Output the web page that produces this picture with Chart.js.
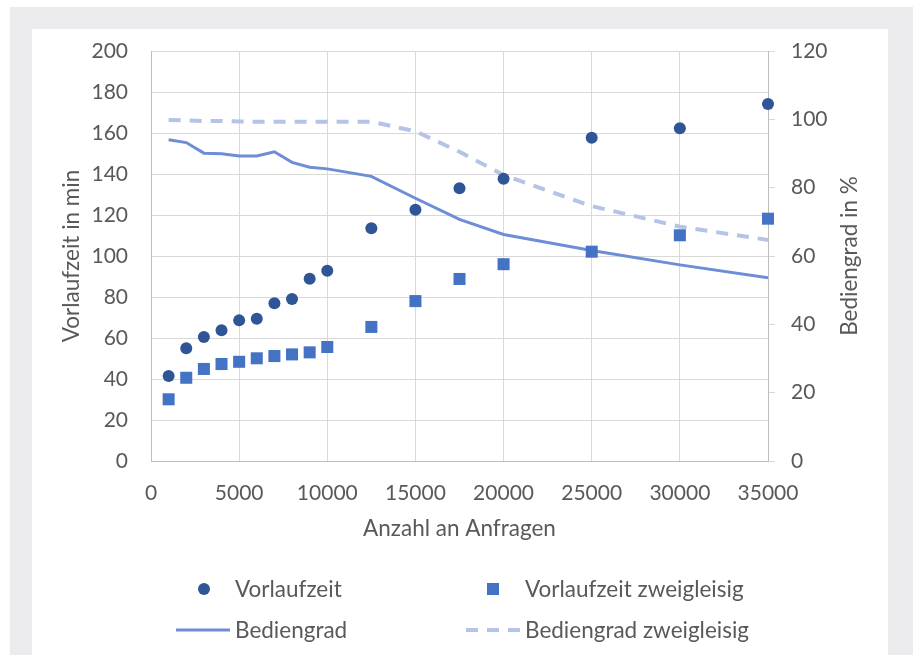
<!DOCTYPE html>
<html>
<head>
<meta charset="utf-8">
<script src="https://cdn.jsdelivr.net/npm/chart.js@4.4.0/dist/chart.umd.min.js"></script>
<style>
  html, body { margin: 0; padding: 0; background: #fff; }
  body { width: 917px; height: 655px; position: relative; overflow: hidden; font-family: Lato, sans-serif; color: #595959; }
  #rahmen { position: absolute; left: 10px; top: 7px; width: 903px; height: 700px; background: #ebebed; }
  #blatt { position: absolute; left: 32px; top: 29px; width: 856px; height: 700px; background: #fff; }
  #c { position: absolute; left: 0; top: 0; }
  .txt { position: absolute; font-size: 22.5px; line-height: 26px; white-space: nowrap; }
  .mk { position: absolute; }
</style>
</head>
<body>
<div id="rahmen"></div>
<div id="blatt"></div>
<canvas id="c" width="917" height="655"></canvas>

<!-- Legende -->
<div class="mk" style="left:198px;top:583px;width:12px;height:12px;border-radius:50%;background:#2f5597"></div>
<div class="txt" style="left:235px;top:576px">Vorlaufzeit</div>
<div class="mk" style="left:487px;top:583px;width:12px;height:12px;background:#4472c4"></div>
<div class="txt" style="left:525px;top:576px">Vorlaufzeit zweigleisig</div>
<svg class="mk" style="left:176px;top:625px" width="54" height="10"><line x1="0" y1="5" x2="54" y2="5" stroke="#6d8dd6" stroke-width="3"/></svg>
<div class="txt" style="left:235px;top:617px">Bediengrad</div>
<svg class="mk" style="left:466px;top:625px" width="55" height="10"><line x1="0" y1="5" x2="55" y2="5" stroke="#b4c3e6" stroke-width="4" stroke-dasharray="12 9"/></svg>
<div class="txt" style="left:525px;top:617px">Bediengrad zweigleisig</div>

<script>
// Anzahl an Anfragen
const anfragen = [1000, 2000, 3000, 4000, 5000, 6000, 7000, 8000, 9000, 10000, 12500, 15000, 17500, 20000, 25000, 30000, 35000];
// Vorlaufzeit in min
const vorlaufzeit = [41.5, 55, 60.5, 63.8, 68.6, 69.4, 76.9, 79, 88.9, 92.8, 113.5, 122.6, 133, 137.7, 157.7, 162.3, 174.1];
const vorlaufzeitZweigleisig = [30.1, 40.6, 44.9, 47.3, 48.4, 50.1, 51.2, 52, 53, 55.6, 65.4, 78, 88.8, 96, 102.1, 110.1, 118.2];
// Bediengrad in %
const bediengrad = [94, 93.2, 90.1, 89.9, 89.3, 89.3, 90.5, 87.4, 86, 85.5, 83.3, 76.9, 70.7, 66.3, 61.6, 57.4, 53.6];
const bediengradZweigleisig = [99.8, 99.7, 99.5, 99.5, 99.4, 99.3, 99.3, 99.3, 99.3, 99.3, 99.3, 96.5, 90.5, 83.7, 74.6, 68.6, 64.7];

const grau = '#595959';
const schrift = { family: 'Lato', size: 21 };
const titelSchrift = { family: 'Lato', size: 22.5 };

const punkte = werte => anfragen.map((x, i) => ({ x: x, y: werte[i] }));

// Titel der rechten Achse, von unten nach oben lesbar
const rechterTitel = {
    id: 'rechterTitel',
    afterDraw(chart) {
        const ctx = chart.ctx;
        const s = chart.scales.y1;
        ctx.save();
        ctx.translate(850, (s.top + s.bottom) / 2);
        ctx.rotate(-Math.PI / 2);
        ctx.font = '22.5px Lato';
        ctx.fillStyle = grau;
        ctx.textAlign = 'center';
        ctx.textBaseline = 'middle';
        ctx.fillText('Bediengrad in %', 0, 0);
        ctx.restore();
    }
};

new Chart(document.getElementById('c'), {
    type: 'scatter',
    data: {
        datasets: [
            {
                label: 'Vorlaufzeit',
                data: punkte(vorlaufzeit),
                yAxisID: 'y',
                pointStyle: 'circle',
                pointRadius: 6,
                backgroundColor: '#2f5597',
                borderWidth: 0,
                clip: false,
                order: 0
            },
            {
                label: 'Vorlaufzeit zweigleisig',
                data: punkte(vorlaufzeitZweigleisig),
                yAxisID: 'y',
                pointStyle: 'rect',
                pointRadius: 8.5,
                backgroundColor: '#4472c4',
                borderWidth: 0,
                clip: false,
                order: 0
            },
            {
                label: 'Bediengrad',
                data: punkte(bediengrad),
                yAxisID: 'y1',
                showLine: true,
                pointRadius: 0,
                borderColor: '#6d8dd6',
                borderWidth: 3,
                tension: 0,
                order: 1
            },
            {
                label: 'Bediengrad zweigleisig',
                data: punkte(bediengradZweigleisig),
                yAxisID: 'y1',
                showLine: true,
                pointRadius: 0,
                borderColor: '#b4c3e6',
                borderWidth: 4,
                borderDash: [12, 9],
                tension: 0,
                order: 1
            }
        ]
    },
    options: {
        responsive: false,
        animation: false,
        layout: { padding: { left: 0, right: 0, top: 51, bottom: 104 } },
        plugins: {
            legend: { display: false },
            tooltip: { enabled: false }
        },
        scales: {
            x: {
                type: 'linear',
                min: 0,
                max: 35000,
                ticks: { stepSize: 5000, color: grau, font: schrift, padding: 20, maxRotation: 0, callback: v => String(v) },
                grid: { color: '#d9d9d9', drawTicks: false },
                border: { color: '#bfbfbf' },
                title: { display: true, text: 'Anzahl an Anfragen', color: grau, font: titelSchrift, padding: { top: 0, bottom: 9 } },
                afterFit: s => { s.height = 90; }
            },
            y: {
                position: 'left',
                min: 0,
                max: 200,
                ticks: { stepSize: 20, color: grau, font: schrift, padding: 23 },
                grid: { color: '#d9d9d9', drawTicks: false },
                border: { color: '#bfbfbf' },
                title: { display: true, text: 'Vorlaufzeit in min', color: grau, font: titelSchrift, padding: { top: 58, bottom: 0 } },
                afterFit: s => { s.width = 151; }
            },
            y1: {
                position: 'right',
                min: 0,
                max: 120,
                ticks: { stepSize: 20, color: grau, font: schrift, padding: 16 },
                grid: { drawOnChartArea: false, color: '#d9d9d9', tickLength: 7 },
                border: { color: '#bfbfbf' },
                afterFit: s => { s.width = 149; }
            }
        }
    },
    plugins: [rechterTitel]
});
</script>
</body>
</html>
